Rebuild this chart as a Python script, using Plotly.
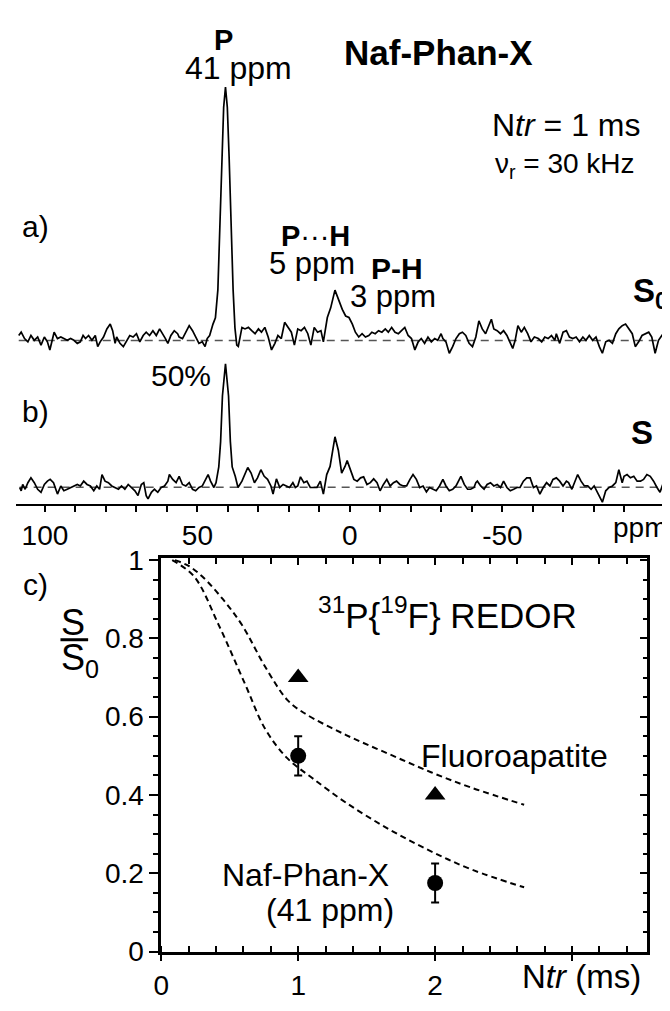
import plotly.graph_objects as go

# ---- spectrum a) S0 : chemical shift (ppm) and intensity (41 ppm peak = 100)
ppm_a = [108.6, 107.8, 106.7, 105.6, 104.6, 103.5, 102.4, 101.3, 100.2, 99.2,
         98.4, 97.5, 97.0, 95.9, 94.8, 93.8, 92.7, 91.6, 90.5, 89.4,
         88.4, 87.5, 86.7, 85.7, 84.6, 83.5, 82.7, 81.9, 80.8, 79.7,
         78.6, 77.8, 77.0, 76.5, 75.4, 74.3, 73.2, 72.2, 71.1, 70.0,
         68.9, 67.8, 66.8, 65.7, 64.6, 63.5, 62.4, 61.4, 60.5, 59.7,
         58.7, 57.6, 56.5, 56.0, 54.9, 53.8, 52.7, 51.6, 50.6, 49.5,
         48.4, 47.5, 46.8, 46.0, 44.9, 44.1, 43.3, 42.6, 42.0, 41.4,
         40.8, 40.2, 39.6, 39.0, 38.3, 37.7, 37.1, 36.6, 35.4, 34.4,
         33.3, 32.2, 31.1, 30.0, 29.0, 27.9, 26.8, 25.7, 24.6, 23.6,
         22.5, 21.4, 20.3, 19.2, 18.2, 17.1, 16.0, 14.9, 13.8, 12.8,
         11.7, 10.6, 9.5, 8.7, 7.4, 6.3, 4.9, 3.6, 2.5, 1.4,
         0.3, -0.8, -1.8, -2.9, -4.0, -5.1, -6.2, -7.2, -8.3, -9.4,
         -10.5, -11.6, -12.6, -13.7, -14.8, -15.9, -17.0, -18.0, -19.1, -20.2,
         -21.3, -22.4, -23.4, -24.5, -25.6, -26.7, -27.8, -28.8, -29.9, -30.5,
         -31.5, -32.6, -33.7, -34.8, -35.9, -36.9, -38.0, -39.1, -40.2, -41.3,
         -42.3, -43.4, -44.5, -45.6, -46.4, -47.2, -48.3, -49.4, -50.4, -51.5,
         -52.6, -53.4, -54.2, -55.1, -56.2, -57.2, -58.3, -59.4, -60.5, -61.8,
         -62.9, -63.9, -65.0, -66.1, -67.2, -67.7, -68.8, -69.9, -71.0, -72.0,
         -73.1, -74.2, -75.3, -76.4, -77.4, -78.5, -79.6, -80.7, -81.8, -82.8,
         -83.9, -85.0, -86.1, -87.2, -88.2, -89.3, -90.4, -91.5, -92.6, -93.6,
         -94.7, -95.8, -96.9, -98.0, -99.0, -100.1, -101.2, -102.3, -103.4, -104.4]
int_a = [2.0, 3.3, 0.8, -0.5, 2.0, 0.1, 1.4, -1.8, 1.4, -0.5,
         -3.7, 1.4, 3.3, 0.8, 1.4, 0.8, 0.1, 0.8, 0.1, -1.1,
         -0.5, 2.0, 0.8, 2.0, 0.1, 2.0, -2.4, -0.5, 1.4, 4.6,
         6.5, 3.9, -1.1, 1.4, -1.1, -2.4, 0.1, 2.0, 1.4, 2.7,
         -0.5, 2.0, 3.3, 2.0, 3.9, 2.0, 4.6, 2.7, 0.8, -1.1,
         2.0, 3.9, 2.7, 1.4, 0.8, 3.3, 5.9, 3.9, 1.4, -1.1,
         -0.5, -2.4, 0.8, 2.0, 6.5, 9.0, 20, 45, 72, 92,
         100, 92, 72, 45, 20, 5.0, -1.8, -2.3, 5.2, 4.6,
         5.2, 3.9, 2.7, 4.6, 3.3, 5.2, 1.4, -3.7, -1.1, 2.0,
         0.8, 7.2, 5.2, 3.3, -1.8, 4.6, 3.9, 5.2, 2.7, -1.8,
         5.2, 3.3, 3.9, -0.5, 9.1, 12.9, 19.9, 15.5, 12.3, 9.7,
         9.1, 6.5, 3.3, 1.4, 2.7, 1.4, 2.0, 3.3, 2.7, 3.9,
         3.3, 4.6, 3.3, 5.2, 3.3, 2.7, 3.9, 5.2, 2.0, 0.8,
         -3.7, -0.5, 0.8, -1.1, 1.4, -0.5, 0.8, 0.1, 2.7, 0.8,
         -0.5, -5.0, -2.4, 0.8, 2.7, 3.3, 2.0, -1.1, -2.4, 1.4,
         7.8, 4.6, 2.7, 6.5, 8.4, 4.6, 3.9, 2.7, 3.9, 2.0,
         -1.1, -3.1, 0.1, 5.9, 3.3, 5.2, 2.7, -0.5, 1.4, 0.8,
         -0.5, 1.4, 0.8, 2.0, 0.1, 2.7, -1.1, 3.3, 3.9, 1.4,
         0.8, 1.4, -0.5, 1.4, 0.1, 2.0, 0.1, 1.4, -2.4, -5.0,
         -0.5, 0.1, -1.1, 2.7, 4.6, 5.9, 6.5, 4.6, 2.7, -2.4,
         -0.5, 2.0, 2.7, 3.3, 1.4, -5.0, 0.1, 2.0, 0.1, 1.4]

# ---- spectrum b) S (same intensity scale)
ppm_b = [108.3, 107.8, 107.3, 106.5, 105.6, 104.6, 103.5, 102.4, 101.3, 100.2,
         99.2, 98.3, 97.2, 96.5, 95.9, 94.8, 93.8, 92.7, 91.6, 90.5,
         89.4, 88.4, 87.3, 86.2, 85.1, 84.0, 83.0, 82.1, 81.3, 80.3,
         79.2, 78.1, 77.0, 75.9, 74.9, 73.8, 72.7, 71.6, 70.5, 69.5,
         68.4, 67.6, 66.8, 66.2, 65.1, 64.1, 63.0, 61.9, 60.8, 59.7,
         59.2, 58.1, 57.0, 56.0, 54.9, 53.8, 52.7, 51.6, 50.6, 49.5,
         48.4, 47.3, 46.5, 45.7, 44.6, 43.9, 43.0, 42.4, 41.8, 40.8,
         39.8, 39.2, 38.6, 37.6, 36.7, 35.4, 34.4, 33.5, 32.4, 31.3,
         30.3, 29.2, 28.1, 27.0, 25.9, 25.2, 24.1, 23.0, 21.9, 20.9,
         19.8, 18.7, 17.9, 17.1, 16.2, 15.1, 14.1, 13.0, 11.9, 10.8,
         9.7, 8.7, 7.6, 6.5, 4.9, 3.8, 2.7, 1.6, 0.9, -0.2,
         -1.3, -2.4, -3.5, -4.5, -5.6, -6.7, -7.8, -8.9, -9.9, -11.0,
         -12.1, -13.2, -14.3, -15.3, -16.4, -17.5, -18.6, -19.7, -20.7, -21.8,
         -22.9, -24.0, -25.1, -26.1, -27.2, -28.3, -29.4, -30.5, -31.5, -32.6,
         -33.7, -34.8, -35.9, -36.4, -37.5, -38.6, -39.6, -40.7, -41.3, -41.8,
         -42.9, -44.0, -45.0, -46.1, -47.2, -48.3, -49.4, -50.4, -51.5, -52.6,
         -53.7, -54.8, -55.8, -56.9, -58.0, -59.1, -60.2, -61.2, -62.3, -63.4,
         -64.5, -65.6, -66.6, -67.7, -68.8, -69.9, -71.0, -71.7, -72.8, -73.7,
         -74.7, -75.8, -76.9, -78.0, -79.1, -80.1, -81.2, -82.3, -82.8, -83.9,
         -85.0, -86.1, -87.2, -88.2, -89.3, -89.9, -90.9, -92.0, -93.1, -94.2,
         -95.3, -96.3, -97.4, -98.5, -99.6, -100.7, -101.7, -102.8, -103.9, -105.0]
int_b = [-0.1, -1.4, 1.1, -0.8, 1.8, 3.7, 1.8, -0.8, -2.0, 1.1,
         2.4, 3.1, 1.8, -0.8, -2.7, 0.5, -1.4, -0.8, -0.1, 0.5,
         1.1, 0.5, 2.4, 1.1, 0.5, -1.4, 0.5, -0.8, 5.0, 2.4,
         1.8, 0.5, -0.1, -0.8, 0.5, -0.8, 1.1, -0.1, -1.4, -3.3,
         1.1, 1.8, -3.3, -4.6, -2.0, -0.8, -2.0, -0.1, 0.5, 2.4,
         5.0, 3.1, 1.8, 4.3, 1.1, 0.5, 1.8, -0.8, -1.4, -0.1,
         0.5, 3.1, 5.0, 2.4, -0.1, 1.8, 8.0, 18, 36, 48.7,
         36, 18, 8.0, 4.3, -0.1, 2.4, 5.6, 7.8, 5.6, 1.8,
         3.7, 6.9, 4.3, 3.1, 0.5, -2.7, 3.3, -0.1, 1.1, 0.5,
         -0.1, 1.8, -0.1, 0.5, 4.1, 1.8, 2.4, -0.1, -0.1, -0.1,
         2.4, -2.7, 5.0, 8.2, 19.9, 14.6, 5.6, 8.2, 10.5, 6.9,
         3.1, 2.4, 3.7, 4.1, 1.1, 1.8, 3.3, 1.8, -1.4, 1.1,
         3.1, 0.5, 1.8, 2.4, 1.1, 0.5, 0.5, 3.1, 5.0, 3.1,
         -0.1, 0.5, -1.8, -0.1, -0.8, -1.4, 0.5, 3.1, 0.5, -1.4,
         -0.8, 0.5, 3.1, 4.3, 1.1, -0.8, -0.8, -0.1, 1.8, 2.4,
         0.5, -0.8, 1.1, 1.8, 0.5, 1.1, -0.1, 2.4, -0.1, -1.4,
         -0.8, -0.1, -0.1, 2.4, 3.7, 3.7, -0.1, 0.5, -2.7, -0.1,
         1.8, 0.5, 3.1, 3.7, 2.4, 0.5, 2.4, 1.8, -0.8, 1.8,
         5.0, 2.4, 0.5, 0.5, -0.8, 0.5, -2.0, -4.6, -5.9, -1.4,
         -0.1, 0.5, 1.8, 6.9, 1.8, 4.3, 5.0, 3.7, 4.3, 2.4,
         2.4, 3.1, 5.0, 4.3, 2.4, -0.1, -2.0, 1.8, 2.4, 0.5]

# ---- c) 31P{19F} REDOR
ntr_pts = [1, 2]
fa_ratio = [0.70, 0.40]
nf_ratio = [0.50, 0.175]
nf_err = [0.05, 0.05]

fit_fa_t = [0.10, 0.20, 0.30, 0.45, 0.59, 0.76, 0.92, 1.04, 1.35, 1.66, 1.97, 2.27, 2.65]
fit_fa_s = [1.00, 0.985, 0.958, 0.90, 0.834, 0.727, 0.643, 0.610, 0.553, 0.505, 0.458, 0.418, 0.375]
fit_nf_t = [0.08, 0.24, 0.42, 0.61, 0.76, 0.92, 1.10, 1.35, 1.66, 1.97, 2.27, 2.65]
fit_nf_s = [1.00, 0.958, 0.834, 0.685, 0.568, 0.494, 0.444, 0.380, 0.313, 0.256, 0.209, 0.164]

y_ticks = [0, 0.2, 0.4, 0.6, 0.8, 1]
y_ticktext = ['0', '0.2', '0.4', '0.6', '0.8', '1']

W, H = 670, 1011
PAGE_MARGIN = 8   # the html body margin shifts the figure on the screenshot
FONT = "Liberation Sans, Arial, Helvetica, sans-serif"


def px(x):
    # screen pixel -> paper fraction
    return (x - PAGE_MARGIN) / W


def py(y):
    return 1 - (y - PAGE_MARGIN) / H


fig = go.Figure()

# spectra + dashed zero lines
for xs, ys, ax in [(ppm_a, int_a, 'y2'), (ppm_b, int_b, 'y')]:
    fig.add_trace(go.Scatter(x=[xs[0], xs[-1]], y=[0, 0], xaxis='x', yaxis=ax, mode='lines',
                             line=dict(color='#555555', width=1.6, dash='8px,6px'),
                             hoverinfo='skip', showlegend=False))
    fig.add_trace(go.Scatter(x=xs, y=ys, xaxis='x', yaxis=ax, mode='lines',
                             line=dict(color='black', width=1.7),
                             hoverinfo='skip', showlegend=False))

# REDOR curves
for t, s in [(fit_fa_t, fit_fa_s), (fit_nf_t, fit_nf_s)]:
    fig.add_trace(go.Scatter(x=t, y=s, xaxis='x3', yaxis='y3', mode='lines',
                             line=dict(color='black', width=2, dash='6px,4px', shape='spline'),
                             hoverinfo='skip', showlegend=False))

fig.add_trace(go.Scatter(x=ntr_pts, y=fa_ratio, xaxis='x3', yaxis='y3', mode='markers',
                         marker=dict(symbol='triangle-up', size=18, color='black'),
                         showlegend=False))
fig.add_trace(go.Scatter(x=ntr_pts, y=nf_ratio, xaxis='x3', yaxis='y3', mode='markers',
                         marker=dict(symbol='circle', size=16, color='black'),
                         error_y=dict(type='data', array=nf_err, color='black', thickness=2, width=4),
                         showlegend=False))

# empty traces so the mirrored (top / right) axes get drawn
fig.add_trace(go.Scatter(x=[None], y=[None], xaxis='x4', yaxis='y3', showlegend=False, hoverinfo='skip'))
fig.add_trace(go.Scatter(x=[None], y=[None], xaxis='x3', yaxis='y4', showlegend=False, hoverinfo='skip'))

tick_font = dict(family=FONT, size=28, color='black')
c_xrange = [0, 3.55]
c_yrange = [0, 1.005]

fig.update_layout(
    width=W, height=H,
    margin=dict(l=0, r=0, t=0, b=0),
    paper_bgcolor='white', plot_bgcolor='white',
    font=dict(family=FONT, color='black'),
    showlegend=False,
    xaxis=dict(domain=[0, 1], range=[109.5, -107.6], anchor='y',
               showline=True, linecolor='black', linewidth=2,
               ticks='outside', ticklen=6, tickwidth=1.5, tickcolor='black',
               tickmode='array', tickvals=[100, 50, 0, -50], ticktext=['100', '50', '0', '-50'],
               tickfont=tick_font,
               minor=dict(tickmode='array', tickvals=list(range(-90, 101, 10)),
                          ticks='outside', ticklen=6, tickwidth=1.5, tickcolor='black'),
               showgrid=False, zeroline=False),
    yaxis=dict(domain=[py(505), py(350)], range=[-6.51, 52.87], visible=False),
    yaxis2=dict(domain=[py(360), py(60)], range=[-8.81, 106.13], visible=False, anchor='x'),
    xaxis3=dict(domain=[px(155), px(647)], range=c_xrange, anchor='y3',
                showline=True, linecolor='black', linewidth=2.5,
                ticks='outside', ticklen=7, tickwidth=2, tickcolor='black',
                tickmode='array', tickvals=[0, 1, 2, 3], ticktext=['0', '1', '2', ''],
                tickfont=tick_font,
                minor=dict(dtick=0.2, tick0=0, ticks='inside', ticklen=6, tickwidth=1.5, tickcolor='black'),
                showgrid=False, zeroline=False),
    yaxis3=dict(domain=[py(966), py(561)], range=c_yrange, anchor='x3',
                showline=True, linecolor='black', linewidth=2.5,
                ticks='outside', ticklen=9, tickwidth=2, tickcolor='black',
                tickmode='array', tickvals=y_ticks, ticktext=y_ticktext,
                tickfont=tick_font,
                minor=dict(dtick=0.05, tick0=0, ticks='outside', ticklen=5, tickwidth=1.5, tickcolor='black'),
                showgrid=False, zeroline=False),
    xaxis4=dict(overlaying='x3', side='top', anchor='y3', range=c_xrange,
                showline=True, linecolor='black', linewidth=2.5,
                ticks='inside', ticklen=7, tickwidth=2, tickcolor='black',
                tickmode='array', tickvals=[1, 2, 3], showticklabels=False,
                minor=dict(dtick=0.2, tick0=0, ticks='inside', ticklen=6, tickwidth=1.5, tickcolor='black'),
                showgrid=False, zeroline=False),
    yaxis4=dict(overlaying='y3', side='right', anchor='x3', range=c_yrange,
                showline=True, linecolor='black', linewidth=2.5,
                ticks='inside', ticklen=8, tickwidth=2, tickcolor='black',
                tickmode='array', tickvals=y_ticks, showticklabels=False,
                minor=dict(dtick=0.05, tick0=0, ticks='inside', ticklen=5, tickwidth=1.5, tickcolor='black'),
                showgrid=False, zeroline=False),
)

# text labels (screen pixel positions): text, x, y, size, x-anchor
page_labels = [
    ('<b>P</b>', 218, 28, 29, 'center'),
    ('41 ppm', 233, 56, 32, 'center'),
    ('<b>Naf-Phan-X</b>', 436, 40, 35, 'center'),
    ('N<i>tr</i> = 1 ms', 565, 115, 32, 'center'),
    ('ν<sub>r</sub> = 30 kHz', 564, 157, 28, 'center'),
    ('a)', 28, 220, 30, 'center'),
    ('<b>P</b>···<b>H</b>', 311, 229, 29, 'center'),
    ('5 ppm', 308, 258, 31, 'center'),
    ('<b>P-H</b>', 394, 263, 30, 'center'),
    ('3 ppm', 390, 292, 31, 'center'),
    ('<b>S<sub>0</sub></b>', 670, 288, 33, 'right'),
    ('50%', 175, 373, 30, 'center'),
    ('b)', 28, 410, 30, 'center'),
    ('<b>S</b>', 642, 432, 33, 'center'),
    ('ppm', 669, 529, 28, 'right'),
    ('c)', 28, 588, 30, 'center'),
    ('S', 66, 627, 36, 'center'),
    ('S<sub>0</sub>', 73, 666, 36, 'center'),
    ('N<i>tr</i> (ms)', 580, 992, 33, 'center'),
]
for text, x, y, size, anchor in page_labels:
    fig.add_annotation(text=text, x=px(x), y=py(y), xref='paper', yref='paper',
                       xanchor=anchor, yanchor='middle', showarrow=False,
                       font=dict(family=FONT, size=size, color='black'))

# labels inside the REDOR panel (data coordinates)
panel_labels = [
    ('<sup>31</sup>P{<sup>19</sup>F} REDOR', 2.09, 0.866, 35),
    ('Fluoroapatite', 2.58, 0.499, 32),
    ('Naf-Phan-X', 1.05, 0.196, 32),
    ('(41 ppm)', 1.23, 0.107, 32),
]
for text, x, y, size in panel_labels:
    fig.add_annotation(text=text, x=x, y=y, xref='x3', yref='y3',
                       xanchor='center', yanchor='middle', showarrow=False,
                       font=dict(family=FONT, size=size, color='black'))

# fraction bar of S/S0
fig.add_shape(type='line', xref='paper', yref='paper',
              x0=px(53), x1=px(81), y0=py(645), y1=py(645),
              line=dict(color='black', width=3))

fig.write_html("out.html")
